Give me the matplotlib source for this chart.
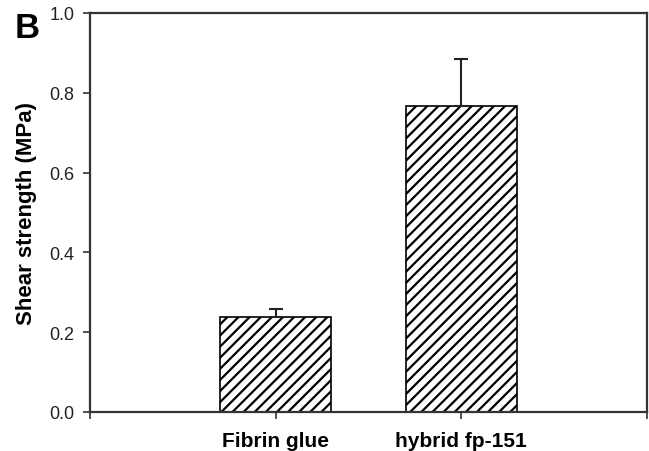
import matplotlib
matplotlib.use("Agg")
import matplotlib.pyplot as plt

# data
groups = ["Fibrin glue", "hybrid fp-151"]
positions = [1, 2]
strength = [0.237, 0.768]
strength_err = [0.021, 0.117]
yticks = [0.0, 0.2, 0.4, 0.6, 0.8, 1.0]

plt.rcParams['font.family'] = ['Liberation Sans', 'DejaVu Sans']
plt.rcParams['hatch.linewidth'] = 1.6

fig = plt.figure(figsize=(6.49, 4.52), dpi=100)
ax = fig.add_axes([90 / 649, 39 / 452, 557 / 649, 399 / 452])

ax.bar(positions, strength, width=0.6, color='white', edgecolor='black',
       hatch='///', linewidth=1.2, zorder=2)
ax.errorbar(positions, strength, yerr=[[0, 0], strength_err], fmt='none',
            ecolor='#222222', elinewidth=1.5, capsize=5, capthick=1.5, zorder=3)

ax.set_xlim(0, 3)
ax.set_ylim(0, 1.0)
ax.set_xticks([0, 1, 2, 3])
ax.set_xticklabels([""] + groups + [""], fontsize=15, fontweight='bold')
ax.set_yticks(yticks)
ax.set_yticklabels([f"{v:.1f}" for v in yticks], fontsize=13, color='#222222')
ax.tick_params(axis='y', direction='out', length=5, width=1.2, pad=6, color='#333333')
ax.tick_params(axis='x', direction='out', length=5, width=1.2, pad=9, color='#333333')

for s in ax.spines.values():
    s.set_linewidth(1.6)
    s.set_color('#333333')

ax.set_ylabel("Shear strength (MPa)", fontsize=16, fontweight='bold')
ax.yaxis.set_label_coords(-0.095, 0.5)

fig.text(15 / 649, 1 - 38 / 452, "B", fontsize=25, fontweight='bold')

fig.savefig("out.png", dpi=100)
